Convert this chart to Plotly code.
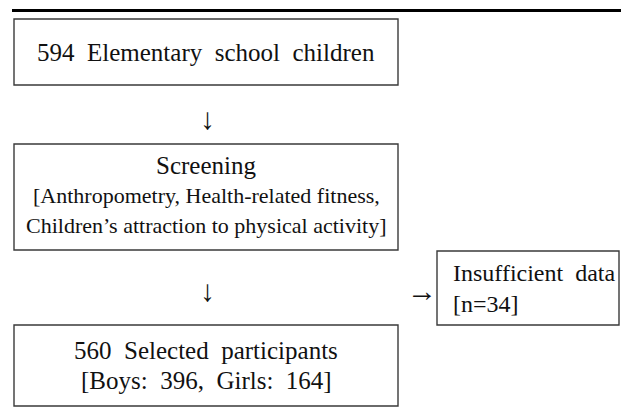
import plotly.graph_objects as go

# ---- data (counts shown in the flow chart) ----
total_children = 594
excluded = 34
selected = 560
boys = 396
girls = 164

box_texts = [
    [f"{total_children}\u00a0 Elementary\u00a0 school\u00a0 children"],
    ["Screening",
     "[Anthropometry, Health-related fitness,",
     "Children\u2019s attraction to physical activity]"],
    ["Insufficient\u00a0 data", f"[n={excluded}]"],
    [f"{selected}\u00a0 Selected\u00a0 participants",
     f"[Boys:\u00a0 {boys},\u00a0 Girls:\u00a0 {girls}]"],
]

# ---- layout constants ----
W, H = 621, 410
FONT = "Liberation Serif, Times New Roman, serif"
boxes = [  # x0, x1, y0, y1
    (14, 398, 19, 85),
    (14, 398, 144, 250),
    (437, 619, 251, 325),
    (14, 398, 325, 406),
]
line_y = [
    [52],
    [165, 195, 225],
    [273, 304],
    [350, 380],
]
line_size = [
    [25],
    [25, 22, 22],
    [24, 24],
    [25, 25],
]

fig = go.Figure()
fig.add_trace(go.Scatter(x=[0, W], y=[0, H], mode="markers",
                         marker=dict(opacity=0), hoverinfo="skip",
                         showlegend=False))

shapes = []
# top rule
shapes.append(dict(type="line", x0=12, x1=W, y0=10.5, y1=10.5,
                   line=dict(color="#000000", width=3)))
for (x0, x1, y0, y1) in boxes:
    shapes.append(dict(type="rect", x0=x0, x1=x1, y0=y0, y1=y1,
                       line=dict(color="#3a3a3a", width=1.4),
                       fillcolor="rgba(0,0,0,0)"))

annotations = []
for i, (x0, x1, y0, y1) in enumerate(boxes):
    left = (i == 2)
    for txt, yy, sz in zip(box_texts[i], line_y[i], line_size[i]):
        annotations.append(dict(
            x=(x0 + 14) if left else (x0 + x1) / 2, y=yy,
            xref="x", yref="y", text=txt, showarrow=False,
            xanchor="left" if left else "center", yanchor="middle",
            font=dict(family=FONT, size=sz, color="#111111")))

# arrows as glyphs
for (ax, ay, ch) in [(207, 118, "\u2193"), (207, 290, "\u2193"), (422, 290, "\u2192")]:
    annotations.append(dict(x=ax, y=ay, xref="x", yref="y", text=ch,
                            showarrow=False, xanchor="center", yanchor="middle",
                            font=dict(family=FONT, size=30, color="#111111")))

fig.update_layout(
    width=W, height=H,
    margin=dict(l=0, r=0, t=0, b=0),
    paper_bgcolor="white", plot_bgcolor="white",
    xaxis=dict(range=[0, W], visible=False, fixedrange=True),
    yaxis=dict(range=[H, 0], visible=False, fixedrange=True),
    shapes=shapes, annotations=annotations,
    showlegend=False,
)

fig.write_html(
    "out.html",
    config={"displayModeBar": False},
    post_script="document.body.style.margin='0';document.body.style.overflow='hidden';",
)
